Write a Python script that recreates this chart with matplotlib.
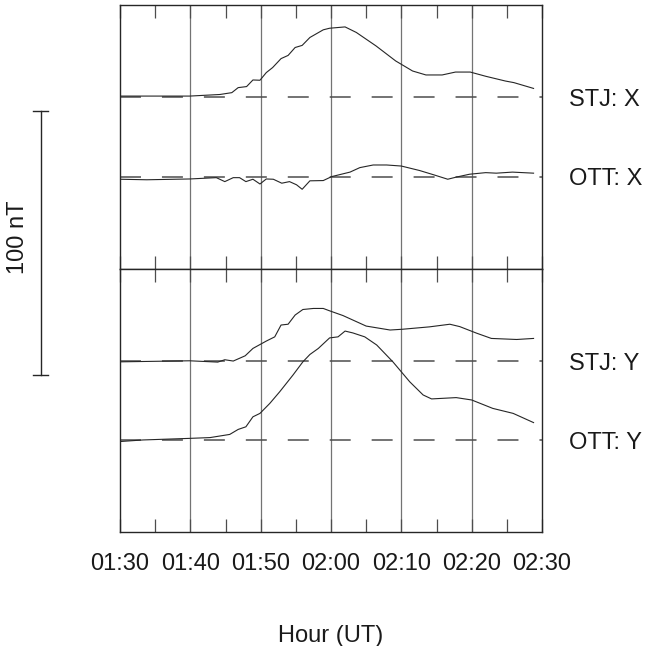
import matplotlib.pyplot as plt
import matplotlib.transforms as mtransforms

plt.rcParams['font.family'] = ['Liberation Sans', 'DejaVu Sans']
plt.rcParams['lines.scale_dashes'] = False

# time axis in minutes after 01:30 UT
tick_minutes = [0, 10, 20, 30, 40, 50, 60]
tick_labels = ["01:30", "01:40", "01:50", "02:00", "02:10", "02:20", "02:30"]

# deviations from the quiet level (nT)
stj_x_t = [0, 9.9, 14.2, 15.9, 16.8, 18.0, 18.9, 19.9, 20.8, 21.7, 22.9, 23.9, 24.9,
           25.9, 27.0, 28.9, 29.8, 32.0, 33.6, 36.4, 39.2, 41.6, 43.5, 45.8, 47.7,
           49.8, 52.0, 54.8, 56.0, 58.8]
stj_x = [0.5, 0.5, 1.1, 1.8, 3.7, 4.1, 6.6, 6.5, 9.4, 11.3, 14.7, 15.9, 18.9,
         19.7, 22.7, 25.6, 26.2, 26.7, 24.6, 19.5, 13.8, 10.0, 8.5, 8.5, 9.6,
         9.6, 8.0, 6.2, 5.6, 3.4]

ott_x_t = [0, 3.8, 9.9, 13.7, 14.9, 16.1, 17.0, 17.9, 18.9, 19.9, 20.8, 21.8, 23.0,
           24.1, 25.1, 25.9, 27.0, 28.9, 30.1, 32.7, 34.1, 36.0, 37.9, 40.0, 42.6,
           44.7, 46.6, 47.8, 49.7, 52.0, 53.5, 55.8, 58.8]
ott_x = [-1.0, -1.2, -0.9, -0.4, -1.9, -0.4, -0.4, -1.9, -1.0, -2.8, -0.9, -1.0, -2.5,
         -1.9, -3.1, -4.8, -1.6, -1.5, 0.0, 1.7, 3.4, 4.4, 4.4, 4.0, 2.3,
         0.6, -1.0, -0.2, 0.9, 1.5, 1.3, 1.7, 1.3]

stj_y_t = [0, 9.9, 13.9, 14.9, 16.1, 17.8, 18.9, 20.8, 22.0, 22.9, 23.9, 24.9, 26.0,
           27.5, 28.9, 29.8, 31.7, 35.0, 38.4, 40.2, 44.0, 46.9, 48.3, 50.7, 52.8,
           56.4, 58.8]
stj_y = [-0.3, 0.1, -0.4, 0.5, 0.0, 2.0, 4.8, 7.6, 9.2, 13.7, 14.0, 17.5, 19.6,
         20.0, 20.0, 19.1, 17.3, 13.3, 11.8, 12.1, 13.0, 14.0, 13.1, 10.6, 8.6,
         8.2, 8.6]

ott_y_t = [0, 3.3, 9.9, 12.8, 15.6, 16.8, 17.9, 18.9, 19.9, 21.3, 22.7, 24.6, 26.0,
           27.0, 28.2, 29.8, 31.0, 32.0, 33.1, 34.8, 36.5, 38.8, 41.2, 43.1, 44.3,
           47.8, 50.0, 53.0, 55.9, 58.8]
ott_y = [-0.6, 0.0, 0.6, 0.9, 2.1, 4.0, 5.0, 8.8, 10.1, 13.9, 18.3, 24.7, 29.7,
         32.5, 34.8, 38.8, 39.2, 41.4, 40.7, 39.2, 36.1, 29.7, 22.1, 17.1, 15.6,
         16.1, 15.2, 12.0, 10.1, 6.6]

# vertical offsets of the traces inside each panel (nT)
upper_offset = 65
lower_offset = 35

fig = plt.figure(figsize=(6.48, 6.46), dpi=100)
ax_top = fig.add_axes([120 / 648, 377 / 646, 422 / 648, 264 / 646])
ax_bot = fig.add_axes([120 / 648, 114 / 646, 422 / 648, 263 / 646])

panels = [
    (ax_top, [(stj_x_t, stj_x, upper_offset, "STJ: X"), (ott_x_t, ott_x, lower_offset, "OTT: X")]),
    (ax_bot, [(stj_y_t, stj_y, upper_offset, "STJ: Y"), (ott_y_t, ott_y, lower_offset, "OTT: Y")]),
]

for ax, traces in panels:
    ax.set_xlim(0, 60)
    ax.set_ylim(0, 100)
    for m in tick_minutes[1:-1]:
        ax.axvline(m, color="0.45", lw=0.9, zorder=1)
    trans = mtransforms.blended_transform_factory(fig.transFigure, ax.transData)
    for t, dev, off, name in traces:
        ax.plot([0, 60], [off, off], color="0.3", lw=1.1, dashes=(15.1, 15.1), zorder=2)
        ax.plot(t, [d + off for d in dev], color="0.15", lw=0.8, zorder=3)
        ax.text(569 / 648, off - 1, name, transform=trans, fontsize=17,
                color="0.1", ha="left", va="center")
    ax.set_xticks(tick_minutes)
    ax.set_xticks([5, 15, 25, 35, 45, 55], minor=True)
    ax.set_yticks([])
    ax.tick_params(axis="x", which="both", direction="in", length=9.4, width=0.9,
                   top=True, bottom=True, color="0.3")
    for s in ax.spines.values():
        s.set_color("0.15")
        s.set_linewidth(1.0)

ax_top.set_xticklabels([])
ax_bot.set_xticklabels(tick_labels, fontsize=17, color="0.1")
ax_bot.tick_params(axis="x", which="major", pad=15)
ax_bot.set_xlabel("Hour (UT)", fontsize=17, color="0.1", labelpad=36)

# 100 nT scale bar
bar = mtransforms.blended_transform_factory(fig.transFigure, ax_top.transData)
bx = 40.7 / 648
cap = 7.5 / 648
ax_top.plot([bx, bx], [-40, 60], transform=bar, color="0.15", lw=1.0, clip_on=False)
ax_top.plot([bx - cap, bx + cap], [60, 60], transform=bar, color="0.15", lw=1.0, clip_on=False)
ax_top.plot([bx - cap, bx + cap], [-40, -40], transform=bar, color="0.15", lw=1.0, clip_on=False)
ax_top.text(18.5 / 648, 12, "100 nT", transform=bar, rotation=90, fontsize=17,
            color="0.1", ha="center", va="center")

fig.savefig("out.png", dpi=100)
